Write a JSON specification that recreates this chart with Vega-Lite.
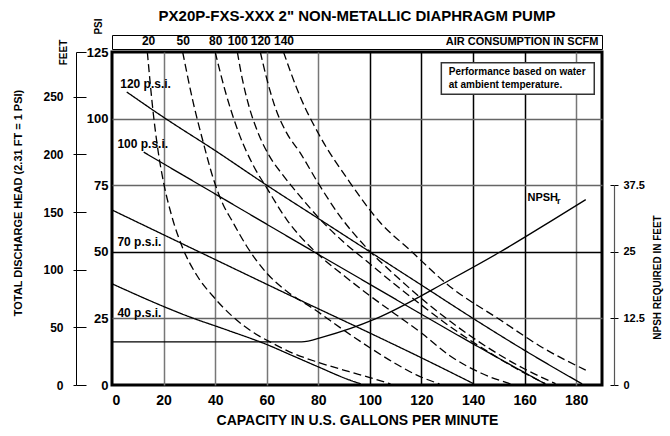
{
  "$schema": "https://vega.github.io/schema/vega-lite/v6.json",
  "width": 490,
  "height": 333,
  "autosize": {"type": "none"},
  "padding": {"left": 112, "top": 52, "right": 68, "bottom": 51},
  "background": "white",
  "config": {
    "font": "Liberation Sans",
    "view": {"stroke": "black", "strokeWidth": 3},
    "axis": {"labelFont": "Liberation Sans", "labelFontWeight": "bold", "labelColor": "black", "titleFont": "Liberation Sans", "titleFontWeight": "bold", "titleColor": "black", "domainColor": "black", "tickColor": "black", "grid": false},
    "text": {"font": "Liberation Sans", "fontWeight": "bold", "color": "black"}
  },
  "title": {"text": "PX20P-FXS-XXX 2\" NON-METALLIC DIAPHRAGM PUMP", "font": "Liberation Sans", "fontSize": 15, "fontWeight": "bold", "color": "black", "anchor": "middle", "offset": -6},
  "datasets": {
    "curves": [
      {"series": "120 psi", "kind": "solid", "gpm": 5.7, "psi": 110},
      {"series": "120 psi", "kind": "solid", "gpm": 20, "psi": 100.5},
      {"series": "120 psi", "kind": "solid", "gpm": 40, "psi": 88},
      {"series": "120 psi", "kind": "solid", "gpm": 60, "psi": 75},
      {"series": "120 psi", "kind": "solid", "gpm": 80, "psi": 62.5},
      {"series": "120 psi", "kind": "solid", "gpm": 100, "psi": 50},
      {"series": "120 psi", "kind": "solid", "gpm": 120, "psi": 37.5},
      {"series": "120 psi", "kind": "solid", "gpm": 140, "psi": 25},
      {"series": "120 psi", "kind": "solid", "gpm": 160, "psi": 13},
      {"series": "120 psi", "kind": "solid", "gpm": 182.3, "psi": 0.4},
      {"series": "100 psi", "kind": "solid", "gpm": 12.3, "psi": 87.4},
      {"series": "100 psi", "kind": "solid", "gpm": 43.2, "psi": 69.9},
      {"series": "100 psi", "kind": "solid", "gpm": 72.8, "psi": 53.1},
      {"series": "100 psi", "kind": "solid", "gpm": 100, "psi": 37.8},
      {"series": "100 psi", "kind": "solid", "gpm": 131, "psi": 20.4},
      {"series": "100 psi", "kind": "solid", "gpm": 150, "psi": 10},
      {"series": "100 psi", "kind": "solid", "gpm": 168, "psi": 0.4},
      {"series": "70 psi", "kind": "solid", "gpm": 0, "psi": 65.7},
      {"series": "70 psi", "kind": "solid", "gpm": 40, "psi": 47.1},
      {"series": "70 psi", "kind": "solid", "gpm": 72.8, "psi": 31.9},
      {"series": "70 psi", "kind": "solid", "gpm": 100, "psi": 19.5},
      {"series": "70 psi", "kind": "solid", "gpm": 120, "psi": 10.2},
      {"series": "70 psi", "kind": "solid", "gpm": 140.2, "psi": 0.5},
      {"series": "40 psi", "kind": "solid", "gpm": 0, "psi": 38},
      {"series": "40 psi", "kind": "solid", "gpm": 30, "psi": 25.6},
      {"series": "40 psi", "kind": "solid", "gpm": 45, "psi": 20.5},
      {"series": "40 psi", "kind": "solid", "gpm": 60, "psi": 15.2},
      {"series": "40 psi", "kind": "solid", "gpm": 70, "psi": 11},
      {"series": "40 psi", "kind": "solid", "gpm": 80, "psi": 6.8},
      {"series": "40 psi", "kind": "solid", "gpm": 92, "psi": 1.9},
      {"series": "40 psi", "kind": "solid", "gpm": 96.5, "psi": 0.4},
      {"series": "20 scfm", "kind": "dashed", "gpm": 13.7, "psi": 125},
      {"series": "20 scfm", "kind": "dashed", "gpm": 16, "psi": 102},
      {"series": "20 scfm", "kind": "dashed", "gpm": 18, "psi": 87},
      {"series": "20 scfm", "kind": "dashed", "gpm": 20, "psi": 76},
      {"series": "20 scfm", "kind": "dashed", "gpm": 23, "psi": 64},
      {"series": "20 scfm", "kind": "dashed", "gpm": 27.6, "psi": 51},
      {"series": "20 scfm", "kind": "dashed", "gpm": 33, "psi": 41},
      {"series": "20 scfm", "kind": "dashed", "gpm": 39, "psi": 33.5},
      {"series": "20 scfm", "kind": "dashed", "gpm": 47, "psi": 25.5},
      {"series": "20 scfm", "kind": "dashed", "gpm": 55, "psi": 19.6},
      {"series": "20 scfm", "kind": "dashed", "gpm": 62, "psi": 15.8},
      {"series": "20 scfm", "kind": "dashed", "gpm": 70, "psi": 12},
      {"series": "20 scfm", "kind": "dashed", "gpm": 80, "psi": 8.5},
      {"series": "20 scfm", "kind": "dashed", "gpm": 92, "psi": 5},
      {"series": "20 scfm", "kind": "dashed", "gpm": 100, "psi": 2.8},
      {"series": "20 scfm", "kind": "dashed", "gpm": 108, "psi": 0.4},
      {"series": "50 scfm", "kind": "dashed", "gpm": 27.4, "psi": 125},
      {"series": "50 scfm", "kind": "dashed", "gpm": 31.5, "psi": 106},
      {"series": "50 scfm", "kind": "dashed", "gpm": 35.4, "psi": 91},
      {"series": "50 scfm", "kind": "dashed", "gpm": 39.3, "psi": 77.4},
      {"series": "50 scfm", "kind": "dashed", "gpm": 43.2, "psi": 67.5},
      {"series": "50 scfm", "kind": "dashed", "gpm": 46.4, "psi": 61.9},
      {"series": "50 scfm", "kind": "dashed", "gpm": 52.3, "psi": 52},
      {"series": "50 scfm", "kind": "dashed", "gpm": 60, "psi": 42},
      {"series": "50 scfm", "kind": "dashed", "gpm": 68, "psi": 35},
      {"series": "50 scfm", "kind": "dashed", "gpm": 78, "psi": 28.7},
      {"series": "50 scfm", "kind": "dashed", "gpm": 90, "psi": 20.5},
      {"series": "50 scfm", "kind": "dashed", "gpm": 100, "psi": 14},
      {"series": "50 scfm", "kind": "dashed", "gpm": 110, "psi": 8},
      {"series": "50 scfm", "kind": "dashed", "gpm": 118, "psi": 3.8},
      {"series": "50 scfm", "kind": "dashed", "gpm": 127, "psi": 0.4},
      {"series": "80 scfm", "kind": "dashed", "gpm": 40, "psi": 125},
      {"series": "80 scfm", "kind": "dashed", "gpm": 44, "psi": 110},
      {"series": "80 scfm", "kind": "dashed", "gpm": 49, "psi": 95},
      {"series": "80 scfm", "kind": "dashed", "gpm": 55, "psi": 82},
      {"series": "80 scfm", "kind": "dashed", "gpm": 60, "psi": 74},
      {"series": "80 scfm", "kind": "dashed", "gpm": 67.8, "psi": 62},
      {"series": "80 scfm", "kind": "dashed", "gpm": 72.8, "psi": 56},
      {"series": "80 scfm", "kind": "dashed", "gpm": 80, "psi": 49},
      {"series": "80 scfm", "kind": "dashed", "gpm": 90, "psi": 41},
      {"series": "80 scfm", "kind": "dashed", "gpm": 100, "psi": 33.5},
      {"series": "80 scfm", "kind": "dashed", "gpm": 110, "psi": 26.5},
      {"series": "80 scfm", "kind": "dashed", "gpm": 120, "psi": 19.5},
      {"series": "80 scfm", "kind": "dashed", "gpm": 131, "psi": 11},
      {"series": "80 scfm", "kind": "dashed", "gpm": 143, "psi": 4.5},
      {"series": "80 scfm", "kind": "dashed", "gpm": 154.5, "psi": 0.4},
      {"series": "100 scfm", "kind": "dashed", "gpm": 48.6, "psi": 125},
      {"series": "100 scfm", "kind": "dashed", "gpm": 50.5, "psi": 115},
      {"series": "100 scfm", "kind": "dashed", "gpm": 53, "psi": 105},
      {"series": "100 scfm", "kind": "dashed", "gpm": 56.5, "psi": 95},
      {"series": "100 scfm", "kind": "dashed", "gpm": 61, "psi": 86},
      {"series": "100 scfm", "kind": "dashed", "gpm": 66.5, "psi": 78.5},
      {"series": "100 scfm", "kind": "dashed", "gpm": 72.8, "psi": 71},
      {"series": "100 scfm", "kind": "dashed", "gpm": 80.5, "psi": 62.4},
      {"series": "100 scfm", "kind": "dashed", "gpm": 90, "psi": 53.5},
      {"series": "100 scfm", "kind": "dashed", "gpm": 100, "psi": 45.5},
      {"series": "100 scfm", "kind": "dashed", "gpm": 110, "psi": 37.5},
      {"series": "100 scfm", "kind": "dashed", "gpm": 120, "psi": 30},
      {"series": "100 scfm", "kind": "dashed", "gpm": 131, "psi": 22},
      {"series": "100 scfm", "kind": "dashed", "gpm": 145, "psi": 13},
      {"series": "100 scfm", "kind": "dashed", "gpm": 158, "psi": 5.5},
      {"series": "100 scfm", "kind": "dashed", "gpm": 168, "psi": 0.5},
      {"series": "120 scfm", "kind": "dashed", "gpm": 57.5, "psi": 125},
      {"series": "120 scfm", "kind": "dashed", "gpm": 60, "psi": 115},
      {"series": "120 scfm", "kind": "dashed", "gpm": 63, "psi": 105},
      {"series": "120 scfm", "kind": "dashed", "gpm": 67.5, "psi": 95},
      {"series": "120 scfm", "kind": "dashed", "gpm": 72.8, "psi": 87.4},
      {"series": "120 scfm", "kind": "dashed", "gpm": 80.5, "psi": 74.9},
      {"series": "120 scfm", "kind": "dashed", "gpm": 88.3, "psi": 63.5},
      {"series": "120 scfm", "kind": "dashed", "gpm": 98.7, "psi": 51.5},
      {"series": "120 scfm", "kind": "dashed", "gpm": 110, "psi": 41},
      {"series": "120 scfm", "kind": "dashed", "gpm": 120, "psi": 32.5},
      {"series": "120 scfm", "kind": "dashed", "gpm": 131, "psi": 24},
      {"series": "120 scfm", "kind": "dashed", "gpm": 145, "psi": 14.5},
      {"series": "120 scfm", "kind": "dashed", "gpm": 160, "psi": 6},
      {"series": "120 scfm", "kind": "dashed", "gpm": 172, "psi": 0.5},
      {"series": "140 scfm", "kind": "dashed", "gpm": 66.5, "psi": 125},
      {"series": "140 scfm", "kind": "dashed", "gpm": 72.8, "psi": 108.6},
      {"series": "140 scfm", "kind": "dashed", "gpm": 80.5, "psi": 93.6},
      {"series": "140 scfm", "kind": "dashed", "gpm": 92.2, "psi": 76.1},
      {"series": "140 scfm", "kind": "dashed", "gpm": 103.9, "psi": 61.1},
      {"series": "140 scfm", "kind": "dashed", "gpm": 115.6, "psi": 50.6},
      {"series": "140 scfm", "kind": "dashed", "gpm": 131, "psi": 37},
      {"series": "140 scfm", "kind": "dashed", "gpm": 150.6, "psi": 24.4},
      {"series": "140 scfm", "kind": "dashed", "gpm": 167, "psi": 14},
      {"series": "140 scfm", "kind": "dashed", "gpm": 183.7, "psi": 5.6}
    ],
    "psilabels": [
      {"label": "120 p.s.i.", "gpm": 3.2, "psi": 111.5},
      {"label": "100 p.s.i.", "gpm": 2.1, "psi": 88.8},
      {"label": "70 p.s.i.", "gpm": 2.1, "psi": 52.2},
      {"label": "40 p.s.i.", "gpm": 2.1, "psi": 25.6}
    ],
    "notebox": [{"x0": 127.7, "x1": 187, "y0": 109.1, "y1": 121}],
    "notetext": [{"text": "Performance based on water\nat ambient temperature.", "gpm": 130.6, "psi": 116.3}],
    "npsh": [
      {"gpm": 0, "npsh": 8.1},
      {"gpm": 73.5, "npsh": 8.1},
      {"gpm": 82, "npsh": 9.05},
      {"gpm": 102.6, "npsh": 12.5},
      {"gpm": 131, "npsh": 19.7},
      {"gpm": 150.6, "npsh": 25},
      {"gpm": 170.7, "npsh": 30.9},
      {"gpm": 183.7, "npsh": 34.8}
    ],
    "npshlabel": [{"label": "NPSH", "sub": "r", "gpm": 161.1, "npsh": 34.6}]
  },
  "layer": [
    {
      "layer": [
        {
          "data": {"name": "curves"},
          "mark": {"type": "line", "interpolate": "monotone", "strokeWidth": 1.3, "color": "black"},
          "encoding": {
            "x": {"field": "gpm", "type": "quantitative", "scale": {"domain": [0, 190], "nice": false},
              "axis": {"orient": "bottom", "values": [0, 20, 40, 60, 80, 100, 120, 140, 160, 180], "grid": true,
                "gridColor": {"condition": {"test": "datum.value >= 100 && datum.value <= 160", "value": "black"}, "value": "#777777"},
                "gridOpacity": {"condition": {"test": "datum.value == 0", "value": 0}, "value": 1},
                "gridWidth": 1.5, "ticks": false, "domain": false, "labelFontSize": 14, "labelPadding": 8,
                "title": "CAPACITY IN U.S. GALLONS PER MINUTE", "titleFontSize": 14, "titlePadding": 6}},
            "y": {"field": "psi", "type": "quantitative", "scale": {"domain": [0, 125], "nice": false},
              "axis": {"orient": "left", "values": [0, 25, 50, 75, 100, 125], "grid": true,
                "gridColor": {"condition": {"test": "datum.value == 50", "value": "black"}, "value": "#666666"},
                "gridOpacity": {"condition": {"test": "datum.value == 0 || datum.value == 125", "value": 0}, "value": 1},
                "gridWidth": 1.5, "ticks": false, "domain": false, "labelFontSize": 13, "labelPadding": 4,
                "title": "PSI", "titleFontSize": 10, "titleAngle": 270, "titleX": -14, "titleY": -26, "titleAlign": "center", "titleBaseline": "middle"}},
            "detail": {"field": "series"},
            "strokeDash": {"field": "kind", "type": "nominal", "scale": {"domain": ["solid", "dashed"], "range": [[1, 0], [8, 4]]}, "legend": null}
          }
        },
        {
          "data": {"name": "psilabels"},
          "mark": {"type": "text", "align": "left", "baseline": "alphabetic", "fontSize": 12, "fontWeight": "bold"},
          "encoding": {
            "x": {"field": "gpm", "type": "quantitative", "scale": {"domain": [0, 190], "nice": false},
              "axis": {"orient": "top", "offset": 3, "values": [14, 27.4, 40, 48.6, 57.5, 66.5],
                "labelExpr": "datum.value < 20 ? '20' : datum.value < 30 ? '50' : datum.value < 45 ? '80' : datum.value < 52 ? '100' : datum.value < 60 ? '120' : '140'",
                "ticks": false, "domain": true, "domainWidth": 1, "labelFontSize": 12, "labelPadding": 2, "labelFlush": false,
                "title": "AIR CONSUMPTION IN SCFM", "titleFontSize": 11, "titleX": 486, "titleY": -3, "titleAlign": "right", "titleBaseline": "bottom"}},
            "y": {"field": "psi", "type": "quantitative", "scale": {"domain": [0, 125], "nice": false}, "axis": null},
            "text": {"field": "label"}
          }
        },
        {
          "data": {"name": "notebox"},
          "mark": {"type": "rect", "fill": "white", "stroke": "#333333", "strokeWidth": 1.5},
          "encoding": {
            "x": {"field": "x0", "type": "quantitative", "scale": {"domain": [0, 190], "nice": false},
              "axis": {"orient": "top", "offset": 17, "values": [0, 190], "ticks": true, "tickSize": -14, "tickWidth": 1, "labels": false, "domain": true, "domainWidth": 1, "title": null}},
            "x2": {"field": "x1"},
            "y": {"field": "y0", "type": "quantitative", "scale": {"domain": [0, 125], "nice": false}, "axis": null},
            "y2": {"field": "y1"}
          }
        },
        {
          "data": {"name": "notetext"},
          "mark": {"type": "text", "align": "left", "baseline": "alphabetic", "fontSize": 10, "fontWeight": "bold", "lineBreak": "\n", "lineHeight": 12.4},
          "encoding": {
            "x": {"field": "gpm", "type": "quantitative", "scale": {"domain": [0, 190], "nice": false}, "axis": null},
            "y": {"field": "psi", "type": "quantitative", "scale": {"domain": [0, 125], "nice": false}, "axis": null},
            "text": {"field": "text"}
          }
        }
      ],
      "resolve": {"axis": {"x": "independent", "y": "independent"}}
    },
    {
      "layer": [
        {
          "mark": {"type": "rule", "opacity": 0},
          "encoding": {
            "y": {"datum": 0, "type": "quantitative", "scale": {"domain": [0, 288.75], "nice": false},
              "axis": {"orient": "left", "offset": 36, "values": [0, 50, 100, 150, 200, 250, 288.75],
                "labelExpr": "datum.value > 260 ? '' : datum.label",
                "tickSize": -10, "tickWidth": 1, "labelPadding": 23, "domain": true, "domainWidth": 1, "labelFontSize": 12,
                "title": "TOTAL DISCHARGE HEAD (2.31 FT = 1 PSI)", "titleFontSize": 11, "titleAngle": 270, "titleX": -57.5, "titleY": 150.5, "titleAlign": "center", "titleBaseline": "middle"}}
          }
        },
        {
          "mark": {"type": "rule", "opacity": 0},
          "encoding": {
            "y": {"datum": 0, "type": "quantitative", "scale": {"domain": [0, 288.75], "nice": false},
              "axis": {"orient": "left", "offset": 36, "values": [0, 50, 100, 150, 200, 250],
                "tickSize": 3, "tickWidth": 1, "labels": false, "domain": false,
                "title": "FEET", "titleFontSize": 10, "titleAngle": 270, "titleX": -13, "titleY": 0, "titleAlign": "center", "titleBaseline": "middle"}}
          }
        }
      ],
      "resolve": {"axis": {"y": "independent"}}
    },
    {
      "layer": [
        {
          "data": {"name": "npsh"},
          "mark": {"type": "line", "interpolate": "monotone", "strokeWidth": 1.3, "color": "black"},
          "encoding": {
            "x": {"field": "gpm", "type": "quantitative", "scale": {"domain": [0, 190], "nice": false}, "axis": null},
            "y": {"field": "npsh", "type": "quantitative", "scale": {"domain": [0, 37.5], "range": [333, 133.2], "nice": false},
              "axis": {"orient": "right", "offset": 12, "values": [0, 12.5, 25, 37.5], "format": ".1~f", "tickSize": 4, "tickWidth": 1, "domain": true, "domainColor": "#555555", "domainWidth": 1.2,
                "labelFontSize": 11, "labelPadding": 5,
                "title": "NPSH REQUIRED IN FEET", "titleFontSize": 10, "titleAngle": 270, "titleX": 43, "titleY": 225, "titleAlign": "center", "titleBaseline": "middle"}}
          }
        },
        {
          "data": {"name": "npshlabel"},
          "mark": {"type": "text", "align": "left", "baseline": "alphabetic", "fontSize": 11, "fontWeight": "bold"},
          "encoding": {
            "x": {"field": "gpm", "type": "quantitative", "scale": {"domain": [0, 190], "nice": false}, "axis": null},
            "y": {"field": "npsh", "type": "quantitative", "scale": {"domain": [0, 37.5], "range": [333, 133.2], "nice": false},
              "axis": {"orient": "right", "offset": 12, "values": [0, 12.5, 25, 37.5], "tickSize": -4, "tickWidth": 1, "labels": false, "domain": false, "title": null}},
            "text": {"field": "label"}
          }
        },
        {
          "data": {"name": "npshlabel"},
          "mark": {"type": "text", "align": "left", "baseline": "alphabetic", "fontSize": 9, "fontWeight": "bold", "dx": 29.5, "dy": 3.5},
          "encoding": {
            "x": {"field": "gpm", "type": "quantitative", "scale": {"domain": [0, 190], "nice": false}, "axis": null},
            "y": {"field": "npsh", "type": "quantitative", "scale": {"domain": [0, 37.5], "range": [333, 133.2], "nice": false}, "axis": null},
            "text": {"field": "sub"}
          }
        }
      ],
      "resolve": {"axis": {"y": "independent"}}
    }
  ],
  "resolve": {"scale": {"y": "independent"}, "axis": {"x": "independent", "y": "independent"}}
}
